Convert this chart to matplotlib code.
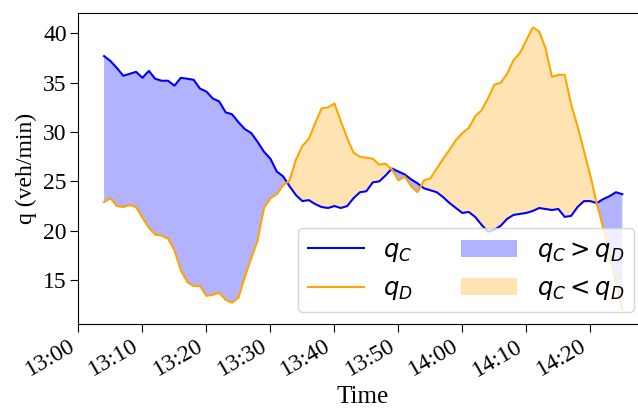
import datetime as dt
import numpy as np
import matplotlib
matplotlib.use("Agg")
import matplotlib.pyplot as plt
import matplotlib.dates as mdates

# flow per minute, 13:04 .. 14:25
q_c = [37.7, 37.2, 36.5, 35.7, 35.9, 36.1, 35.5, 36.2, 35.4, 35.2,
       35.2, 34.7, 35.5, 35.4, 35.3, 34.4, 34.1, 33.4, 33.1, 32.0,
       31.8, 31.0, 30.3, 29.9, 29.0, 28.0, 27.3, 26.0, 25.5, 24.5,
       23.6, 23.0, 23.1, 22.7, 22.4, 22.3, 22.5, 22.3, 22.5, 23.3,
       23.9, 24.0, 24.9, 25.0, 25.6, 26.3, 26.0, 25.7, 25.2, 24.8,
       24.3, 24.1, 23.9, 23.4, 22.8, 22.3, 21.8, 21.9, 21.4, 20.6,
       19.9, 20.1, 20.5, 21.2, 21.6, 21.7, 21.8, 22.0, 22.3, 22.2,
       22.1, 22.2, 21.4, 21.5, 22.4, 23.0, 23.0, 22.8, 23.2, 23.5,
       23.9, 23.7]
q_d = [22.9, 23.3, 22.5, 22.4, 22.6, 22.4, 21.3, 20.3, 19.6, 19.5,
       19.2, 18.0, 16.0, 14.8, 14.4, 14.4, 13.4, 13.5, 13.7, 13.0,
       12.7, 13.2, 15.3, 17.2, 19.0, 22.3, 23.3, 23.7, 24.6, 25.1,
       27.2, 28.6, 29.3, 30.9, 32.4, 32.5, 32.9, 31.1, 29.4, 27.9,
       27.5, 27.4, 27.3, 26.7, 26.8, 26.2, 25.1, 25.5, 24.5, 23.9,
       25.1, 25.3, 26.3, 27.3, 28.2, 29.2, 29.9, 30.4, 31.6, 32.2,
       33.4, 34.8, 35.0, 35.9, 37.3, 38.0, 39.3, 40.6, 40.2, 38.5,
       35.6, 35.8, 35.8, 32.8, 30.6, 28.1, 25.6, 22.8, 20.3, 17.6,
       14.7, 12.0]

start = dt.datetime(2021, 1, 1, 13, 4)
times = [start + dt.timedelta(minutes=i) for i in range(len(q_c))]
qc = np.array(q_c)
qd = np.array(q_d)

plt.rcParams['font.family'] = ['Liberation Serif', 'DejaVu Serif']
plt.rcParams['mathtext.fontset'] = 'dejavusans'

fig = plt.figure(figsize=(6.38, 4.08), dpi=100)
ax = fig.add_axes([0.123, 0.206, 0.8895, 0.762])

ax.fill_between(times, qc, qd, where=qc > qd, interpolate=True,
                color='blue', alpha=0.3, lw=0, label='$q_C > q_D$')
ax.fill_between(times, qc, qd, where=qc < qd, interpolate=True,
                color='orange', alpha=0.3, lw=0, label='$q_C < q_D$')
ax.plot(times, qc, color='blue', lw=1.5, label='$q_C$')
ax.plot(times, qd, color='orange', lw=1.5, label='$q_D$')

# lines in the first legend column, shaded areas in the second
h, lab = ax.get_legend_handles_labels()
order = [2, 3, 0, 1]
ax.legend([h[i] for i in order], [lab[i] for i in order], ncol=2,
          loc='lower right', prop={'family': 'DejaVu Sans', 'size': 17.5},
          handlelength=2.3)

ax.set_xlim(dt.datetime(2021, 1, 1, 13, 0),
            dt.datetime(2021, 1, 1, 13, 0) + dt.timedelta(minutes=88.7))
ax.set_ylim(10.55, 42.06)
ax.set_yticks([15, 20, 25, 30, 35, 40])
ax.xaxis.set_major_locator(mdates.MinuteLocator(byminute=range(0, 60, 10)))
ax.xaxis.set_major_formatter(mdates.DateFormatter('%H:%M'))
ax.tick_params(labelsize=17, length=6, pad=2.5)
for t in ax.get_xticklabels():
    t.set_rotation(30)
    t.set_ha('right')

ax.set_xlabel('Time', fontsize=18)
ax.set_ylabel('q (veh/min)', fontsize=17)

fig.savefig('out.png', dpi=100)
